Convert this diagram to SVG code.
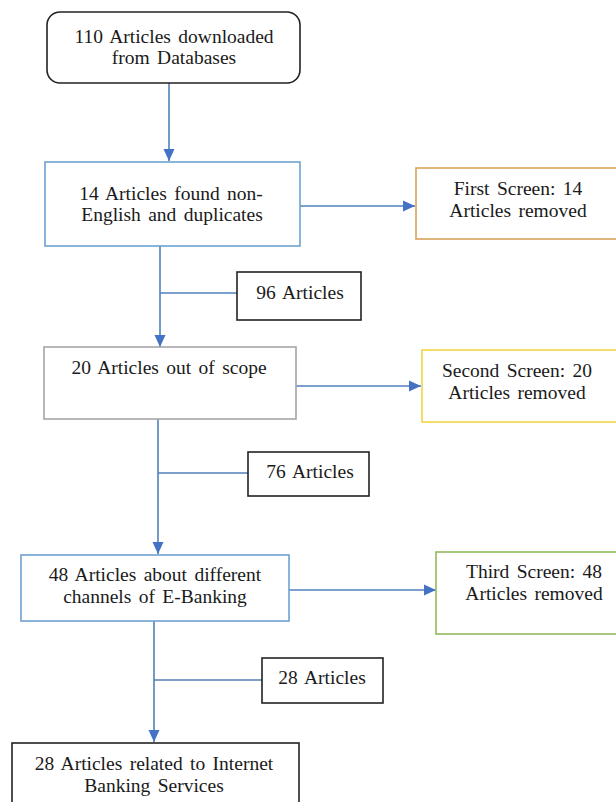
<svg xmlns="http://www.w3.org/2000/svg" width="616" height="802" viewBox="0 0 616 802">
  <style>
    text { font-family: "Liberation Serif", "Times New Roman", "DejaVu Serif", serif; font-size: 19.5px; fill: #1a1a1a; text-anchor: middle; word-spacing: 2.5px; }
    .box { fill: #ffffff; stroke-width: 1.6; }
    .blk { stroke: #222222; }
    .blue { stroke: #6fa3cf; }
    .gray { stroke: #a6a6a6; }
    .orange { stroke: #d9a35a; }
    .yellow { stroke: #f2d447; }
    .green { stroke: #8fbb5c; }
    .conn { stroke: #4f81bd; stroke-width: 1.6; fill: none; }
    .arrow { marker-end: url(#ah); }
  </style>
  <defs>
    <marker id="ah" markerUnits="userSpaceOnUse" markerWidth="12" markerHeight="12" viewBox="0 0 12 12" refX="12" refY="6" orient="auto">
      <path d="M0,0.5 L12,6 L0,11.5 Z" fill="#4472c4"/>
    </marker>
  </defs>
  <rect width="616" height="802" fill="#ffffff"/>

  <g id="connectors">
    <line class="conn arrow" x1="169" y1="83" x2="169" y2="161"/>
    <line class="conn arrow" x1="300" y1="206" x2="415" y2="206"/>
    <line class="conn arrow" x1="160" y1="246" x2="160" y2="347"/>
    <line class="conn" x1="160" y1="293" x2="237" y2="293"/>
    <line class="conn arrow" x1="296" y1="386" x2="421" y2="386"/>
    <line class="conn arrow" x1="158" y1="419" x2="158" y2="554"/>
    <line class="conn" x1="158" y1="473" x2="248" y2="473"/>
    <line class="conn arrow" x1="289" y1="590" x2="436" y2="590"/>
    <line class="conn arrow" x1="154" y1="621" x2="154" y2="742"/>
    <line class="conn" x1="154" y1="680" x2="262" y2="680"/>
  </g>

  <g id="start">
    <rect class="box blk" x="47" y="12" width="253" height="71" rx="13" ry="13"/>
    <text x="174" y="43">110 Articles downloaded</text>
    <text x="174" y="64">from Databases</text>
  </g>

  <g id="nonenglish">
    <rect class="box blue" x="45" y="162" width="255" height="84"/>
    <text x="171" y="200">14 Articles found non-</text>
    <text x="172" y="221">English and duplicates</text>
  </g>

  <g id="screen1">
    <rect class="box orange" x="416" y="168" width="210" height="71"/>
    <text x="518" y="195">First Screen: 14</text>
    <text x="518" y="217">Articles removed</text>
  </g>

  <g id="n96">
    <rect class="box blk" x="237" y="272" width="124" height="48"/>
    <text x="300" y="299">96 Articles</text>
  </g>

  <g id="outofscope">
    <rect class="box gray" x="44" y="347" width="252" height="72"/>
    <text x="169" y="374">20 Articles out of scope</text>
  </g>

  <g id="screen2">
    <rect class="box yellow" x="422" y="350" width="204" height="72"/>
    <text x="517" y="377">Second Screen: 20</text>
    <text x="517" y="399">Articles removed</text>
  </g>

  <g id="n76">
    <rect class="box blk" x="248" y="452" width="121" height="44"/>
    <text x="310" y="478">76 Articles</text>
  </g>

  <g id="channels">
    <rect class="box blue" x="21" y="555" width="268" height="66"/>
    <text x="155" y="581">48 Articles about different</text>
    <text x="155" y="603">channels of E-Banking</text>
  </g>

  <g id="screen3">
    <rect class="box green" x="436" y="552" width="190" height="82"/>
    <text x="534" y="578">Third Screen: 48</text>
    <text x="534" y="600">Articles removed</text>
  </g>

  <g id="n28">
    <rect class="box blk" x="262" y="658" width="121" height="45"/>
    <text x="322" y="684">28 Articles</text>
  </g>

  <g id="final">
    <rect class="box blk" x="12" y="743" width="287" height="70"/>
    <text x="154" y="770">28 Articles related to Internet</text>
    <text x="154" y="792">Banking Services</text>
  </g>
</svg>
